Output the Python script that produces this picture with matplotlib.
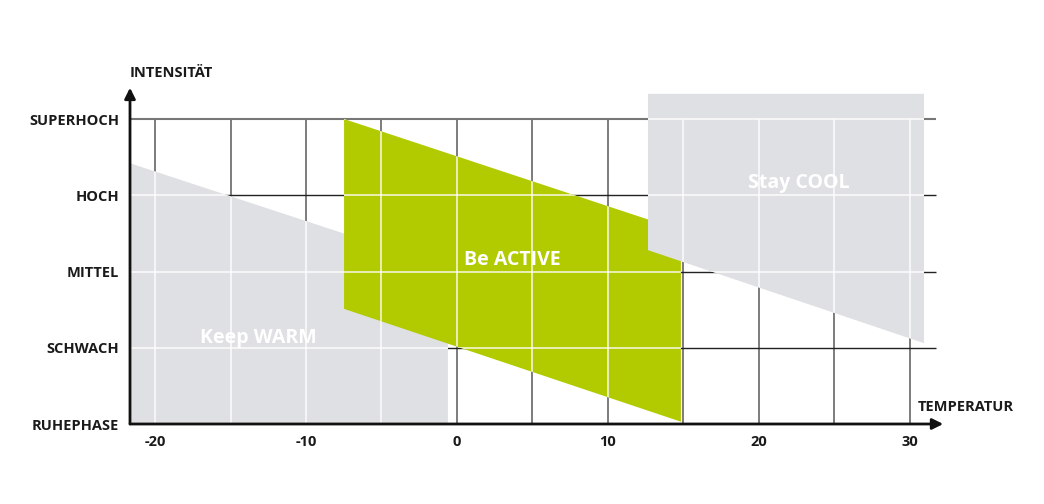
import numpy as np
import matplotlib.pyplot as plt
from matplotlib.patches import Polygon

plt.rcParams['font.family'] = ['Open Sans', 'DejaVu Sans']

# Temperatur-Achse
x_ticks = [-20, -10, 0, 10, 20, 30]
x_tick_labels = ['-20', '-10', '0', '10', '20', '30']
x_grid = [-20, -15, -10, -5, 0, 5, 10, 15, 20, 25, 30]
# Intensitaets-Stufen
levels = [0, 1, 2, 3, 4]
level_labels = ['RUHEPHASE', 'SCHWACH', 'MITTEL', 'HOCH', 'SUPERHOCH']

# Bereiche als Eckpunkte (Temperatur, Intensitaet)
warm_x = [-21.66, -0.6, -0.6, -21.66]
warm_y = [3.42, 2.05, 0.0, 0.0]
active_x = [-7.48, 14.83, 14.83, -7.48]
active_y = [4.0, 2.54, 0.03, 1.51]
cool_x = [12.65, 30.93, 30.93, 12.65]
cool_y = [4.33, 4.33, 1.06, 2.28]
zone_names = ['Keep WARM', 'Be ACTIVE', 'Stay COOL']
zone_label_x = [-13.18, 3.68, 22.62]
zone_label_y = [1.13, 2.15, 3.16]

GRAY = '#dfe0e4'
GREEN = '#b2cb00'

fig = plt.figure(figsize=(10.44, 5.04), dpi=100)
ax = fig.add_axes([130 / 1044, 80 / 504, 815 / 1044, 339 / 504])
xmin, xmax = -21.656, 32.32
ax.set_xlim(xmin, xmax)
ax.set_ylim(0, 4.446)
for s in ax.spines.values():
    s.set_visible(False)

# dunkles Raster
ax.vlines(x_grid, 0, 4, color='#666666', lw=1.2, zorder=1)
ax.hlines(levels[1:4], xmin, 31.7, color='#222222', lw=1.0, zorder=1)
ax.hlines(levels[4], xmin, 31.7, color='#777777', lw=1.5, zorder=1)

# Flaechen, COOL liegt oben
zones = [(warm_x, warm_y, GRAY), (active_x, active_y, GREEN), (cool_x, cool_y, GRAY)]
for i, (zx, zy, col) in enumerate(zones):
    poly = Polygon(np.column_stack([zx, zy]), closed=True, facecolor=col,
                   edgecolor='none', zorder=2 + i * 2)
    ax.add_patch(poly)
    # weisses Raster innerhalb der Flaeche
    v = ax.vlines(x_grid, 0, 4, color='white', lw=1.1, alpha=0.9, zorder=3 + i * 2)
    h = ax.hlines(levels[1:], xmin, 31.7, color='white', lw=1.1, alpha=0.9, zorder=3 + i * 2)
    v.set_clip_path(poly)
    h.set_clip_path(poly)

for name, lx, ly in zip(zone_names, zone_label_x, zone_label_y):
    ax.text(lx, ly, name, color='white', fontsize=14, fontweight='bold',
            ha='center', va='center', zorder=10)

# Achsen mit Pfeil
ax.annotate('', xy=(32.2, 0), xytext=(xmin, 0),
            arrowprops=dict(arrowstyle='-|>', lw=2, color='#111111', mutation_scale=16,
                            shrinkA=0, shrinkB=0), annotation_clip=False, zorder=12)
ax.annotate('', xy=(xmin, 4.41), xytext=(xmin, 0),
            arrowprops=dict(arrowstyle='-|>', lw=2, color='#111111', mutation_scale=16,
                            shrinkA=0, shrinkB=0), annotation_clip=False, zorder=12)

ax.set_xticks(x_ticks)
ax.set_xticklabels(x_tick_labels, fontsize=10.5, fontweight='bold', color='#1a1a1a')
ax.set_yticks(levels)
ax.set_yticklabels(level_labels, fontsize=10.5, fontweight='bold', color='#1a1a1a')
ax.tick_params(axis='both', length=0)
ax.tick_params(axis='x', pad=8)
ax.tick_params(axis='y', pad=8)

ax.text(xmin, 4.6, 'INTENSITÄT', fontsize=10.5, fontweight='bold', color='#1a1a1a',
        ha='left', va='center', clip_on=False)
ax.text(30.53, 0.22, 'TEMPERATUR', fontsize=10.5, fontweight='bold', color='#1a1a1a',
        ha='left', va='center', clip_on=False)

fig.savefig('out.png', dpi=100)
